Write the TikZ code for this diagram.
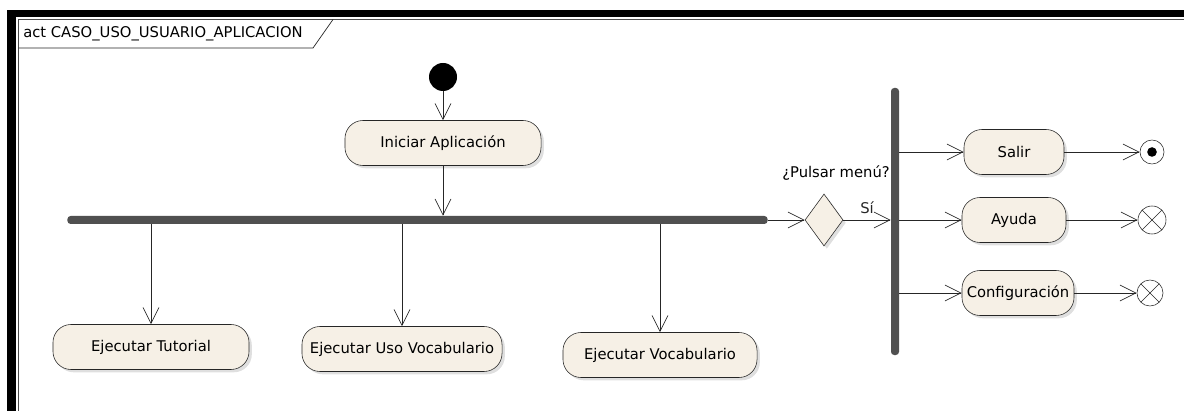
\documentclass[tikz,border=0pt]{standalone}
\usepackage{fontspec}
\setmainfont{DejaVu Sans}
\usepackage{tikz}
\usetikzlibrary{shapes.geometric}
\usetikzlibrary{shadows}
\usetikzlibrary{calc}
\usetikzlibrary{arrows.meta}
\tikzset{>={Straight Barb[length=4mm,width=4mm]}}
\definecolor{fondo}{RGB}{246,240,230}
\definecolor{barra}{RGB}{80,80,80}
\tikzset{
    actividad/.style={draw=black!85, fill=fondo, rounded corners=0.45cm,
        minimum height=1.125cm, inner xsep=2pt,
        drop shadow={opacity=0.25, shadow xshift=0.07cm, shadow yshift=-0.07cm}},
    flujo/.style={->, line width=0.5pt, black!85},
    barrasync/.style={fill=barra, inner sep=0pt, rounded corners=0.08cm},
    inicio/.style={circle, fill=black, minimum size=0.7cm, inner sep=0pt},
    fin/.style={circle, draw=black!85, fill=white, inner sep=0pt,
        path picture={\fill[black] (path picture bounding box.center) circle (0.12cm);}},
    finflujo/.style={circle, draw=black!85, fill=white, inner sep=0pt,
        path picture={
            \draw[black!85] (path picture bounding box.north west) -- (path picture bounding box.south east);
            \draw[black!85] (path picture bounding box.north east) -- (path picture bounding box.south west);
        }},
    decision/.style={diamond, draw=black!85, fill=fondo, inner sep=0pt,
        minimum width=0.95cm, minimum height=1.3cm,
        drop shadow={opacity=0.25, shadow xshift=0.07cm, shadow yshift=-0.07cm}},
}

\begin{document}
\begin{tikzpicture}[x=0.025cm, y=-0.025cm, font=\fontsize{10.5}{12.6}\selectfont]
    \useasboundingbox (0,0) rectangle (1184,411);
    % marco
    \fill[black] (7,10) rectangle (1184,17);
    \fill[black] (7,10) rectangle (16,411);
    \draw[black!70, line width=0.6pt] (18.5,411) -- (18.5,19.5) -- (1184,19.5);
    \draw[black!85, line width=0.5pt] (18.5,48) -- (313,48) -- (333,19.5);
    \node[anchor=west, inner sep=0pt] (marco) at (23,34) {act CASO\_USO\_USUARIO\_APLICACION};

    % nodos
    \node[inicio] (ini) at (443,77) {};
    \node[actividad, minimum width=4.9cm] (iniciar) at (443,143) {Iniciar Aplicación};
    \node[barrasync, minimum width=17.5cm, minimum height=0.2cm] (fork) at (417.5,220) {};
    \node[actividad, minimum width=4.9cm] (tutorial) at (151,347) {Ejecutar Tutorial};
    \node[actividad, minimum width=5cm] (uso) at (402,349) {Ejecutar Uso Vocabulario};
    \node[actividad, minimum width=4.85cm] (vocab) at (660,355) {Ejecutar Vocabulario};
    \node[decision] (menu) at (824,220) {};
    \node (pregunta) at (836,173) {¿Pulsar menú?};
    \node[barrasync, minimum width=0.2cm, minimum height=6.675cm] (join) at (895,221.5) {};
    \node[actividad, minimum width=2.5cm] (salir) at (1014,152) {Salir};
    \node[actividad, minimum width=2.6cm] (ayuda) at (1014,220) {Ayuda};
    \node[actividad, minimum width=2.8cm] (config) at (1018,293) {Configuración};
    \node[fin, minimum size=0.6cm] (final) at (1152,152) {};
    \node[finflujo, minimum size=0.7cm] (finayuda) at (1152,220) {};
    \node[finflujo, minimum size=0.65cm] (finconfig) at (1150,293) {};

    % conectores
    \draw[flujo] (ini) -- (iniciar);
    \draw[flujo] (iniciar) -- (iniciar |- fork.north);
    \draw[flujo] (fork.south -| tutorial) -- (tutorial);
    \draw[flujo] (fork.south -| uso) -- (uso);
    \draw[flujo] (fork.south -| vocab) -- (vocab);
    \draw[flujo] (fork) -- (menu);
    \draw[flujo] (menu) -- node[above=1pt] (si) {Sí} (menu -| join.west);
    \draw[flujo] (join.east |- salir) -- (salir);
    \draw[flujo] (join.east |- ayuda) -- (ayuda);
    \draw[flujo] (join.east |- config) -- (config);
    \draw[flujo] (salir) -- (final);
    \draw[flujo] (ayuda) -- (finayuda);
    \draw[flujo] (config) -- (finconfig);
\end{tikzpicture}
\end{document}
